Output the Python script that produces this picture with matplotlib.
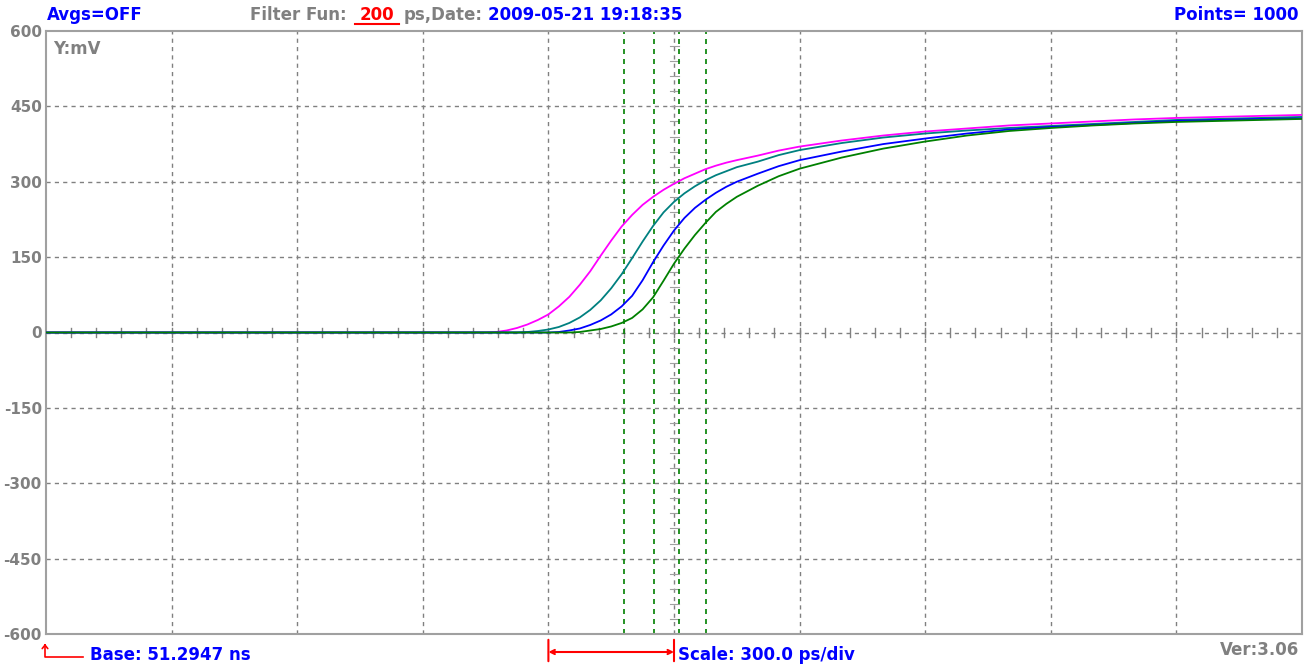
import numpy as np
import matplotlib
matplotlib.use("Agg")
import matplotlib.pyplot as plt
from matplotlib.lines import Line2D

# time axis in ps (300 ps/div, 10 div)
t_ps = [0,
        1050, 1075, 1100, 1125, 1150, 1175, 1200, 1225, 1250, 1275, 1300, 1325, 1350,
        1375, 1400, 1425, 1450, 1475, 1500, 1525, 1550, 1575, 1600, 1625, 1650,
        1700, 1750, 1800,
        1900, 2000, 2100, 2200, 2300, 2400, 2500, 2600, 2700, 2800, 2900, 3000]

# waveforms in mV
wave_magenta = [0,
                0, 1, 4, 9, 16, 25, 36, 52, 71, 95, 122, 153, 183,
                211, 234, 254, 270, 284, 296, 307, 316, 325, 332, 338, 343,
                352, 362, 370,
                382, 392, 400, 406, 412, 416, 420, 424, 427, 429, 431, 433]
wave_teal = [0,
             0, 0, 0, 0, 1, 3, 6, 11, 19, 30, 45, 64, 88,
             116, 148, 181, 212, 239, 260, 277, 291, 303, 313, 321, 329,
             340, 353, 363,
             377, 388, 396, 402, 407, 411, 415, 419, 423, 425, 427, 429]
wave_blue = [0,
             0, 0, 0, 0, 0, 0, 0, 1, 4, 8, 15, 24, 36,
             52, 73, 104, 140, 173, 203, 228, 248, 264, 278, 290, 300,
             316, 331, 343,
             360, 375, 386, 396, 404, 409, 413, 417, 421, 423, 425, 426]
wave_green = [0,
              0, 0, 0, 0, 0, 0, 0, 0, 0, 1, 4, 7, 12,
              19, 29, 46, 70, 103, 137, 167, 194, 218, 240, 256, 270,
              292, 311, 326,
              348, 366, 380, 392, 401, 407, 412, 416, 419, 421, 423, 425]

cursors_ps = [1381, 1452, 1512, 1576]
y_ticks = [600, 450, 300, 150, 0, -150, -300, -450, -600]

W, H = 1311, 666
GRAY = "#808080"
BLUE = "#0000ff"
RED = "#ff0000"
FONT = "DejaVu Sans"

fig = plt.figure(figsize=(W / 100, H / 100), dpi=100)
ax = fig.add_axes([46 / W, 1 - 634 / H, (1302 - 46) / W, (634 - 31) / H])

ax.set_xlim(0, 3000)
ax.set_ylim(-600, 600)

# grid
for gx in np.arange(300, 3000, 300):
    ax.axvline(gx, color=GRAY, lw=1.0, dashes=(3, 3), zorder=1)
for gy in y_ticks[1:-1]:
    ax.axhline(gy, color=GRAY, lw=1.0, dashes=(3, 3), zorder=1)

# minor ticks on the centre axes
for mx in np.arange(60, 3000, 60):
    ax.plot([mx, mx], [-9, 9], color=GRAY, lw=1.0, zorder=1)
for my in np.arange(-570, 600, 30):
    ax.plot([1490, 1512], [my, my], color="#a0a0a0", lw=0.8, zorder=1)

# cursors
for cx in cursors_ps:
    ax.axvline(cx, color="#008000", lw=1.2, dashes=(3, 3), zorder=2)

ax.plot(t_ps, wave_magenta, color="#ff00ff", lw=1.3, zorder=3)
ax.plot(t_ps, wave_teal, color="#008080", lw=1.3, zorder=3)
ax.plot(t_ps, wave_blue, color="#0000ff", lw=1.3, zorder=3)
ax.plot(t_ps, wave_green, color="#008000", lw=1.3, zorder=3)

ax.set_xticks([])
ax.set_yticks(y_ticks)
ax.set_yticklabels([str(v) for v in y_ticks], color=GRAY, fontsize=11,
                   fontweight="bold", family=FONT)
ax.tick_params(axis="y", length=0, pad=3)
for sp in ax.spines.values():
    sp.set_color("#a0a0a0")
    sp.set_linewidth(1.5)

ax.text(0.006, 0.985, "Y:mV", transform=ax.transAxes, color=GRAY, fontsize=12,
        fontweight="bold", family=FONT, ha="left", va="top")


def ftxt(x, y, s, color, ha="left"):
    fig.text(x / W, 1 - y / H, s, color=color, ha=ha, va="center",
             fontsize=12, fontweight="bold", family=FONT)


ftxt(47, 15, "Avgs=OFF", BLUE)
ftxt(250, 15, "Filter Fun:", GRAY)
ftxt(360, 15, "200", RED)
ftxt(404, 15, "ps,Date:", GRAY)
ftxt(488, 15, "2009-05-21 19:18:35", BLUE)
ftxt(1299, 15, "Points= 1000", BLUE, ha="right")
ftxt(90, 655, "Base: 51.2947 ns", BLUE)
ftxt(678, 655, "Scale: 300.0 ps/div", BLUE)
ftxt(1299, 650, "Ver:3.06", GRAY, ha="right")

# underline under filter value
fig.add_artist(Line2D([355 / W, 399 / W], [1 - 24 / H, 1 - 24 / H],
                      transform=fig.transFigure, color=RED, lw=1.5))

# base marker
fig.add_artist(Line2D([83 / W, 45 / W, 45 / W], [1 - 657 / H, 1 - 657 / H, 1 - 646 / H],
                      transform=fig.transFigure, color=RED, lw=1.2))
ax.annotate("", xy=(45, 666 - 641), xytext=(45, 666 - 648),
            xycoords="figure pixels", textcoords="figure pixels",
            arrowprops=dict(arrowstyle="->,head_length=0.25,head_width=0.2",
                            color=RED, lw=1.2))

# scale bar: one division
for sx in (1200, 1500):
    ax.annotate("", xy=(sx, 1 - 637 / H), xytext=(sx, 1 - 664 / H),
                xycoords=("data", "figure fraction"),
                textcoords=("data", "figure fraction"),
                arrowprops=dict(arrowstyle="-", color=RED, lw=1.5))
ax.annotate("", xy=(1200, 1 - 652 / H), xytext=(1500, 1 - 652 / H),
            xycoords=("data", "figure fraction"),
            textcoords=("data", "figure fraction"),
            arrowprops=dict(arrowstyle="<->,head_length=0.3,head_width=0.15",
                            color=RED, lw=1.5, shrinkA=0, shrinkB=0))

fig.savefig("out.png", dpi=100, facecolor="white")
